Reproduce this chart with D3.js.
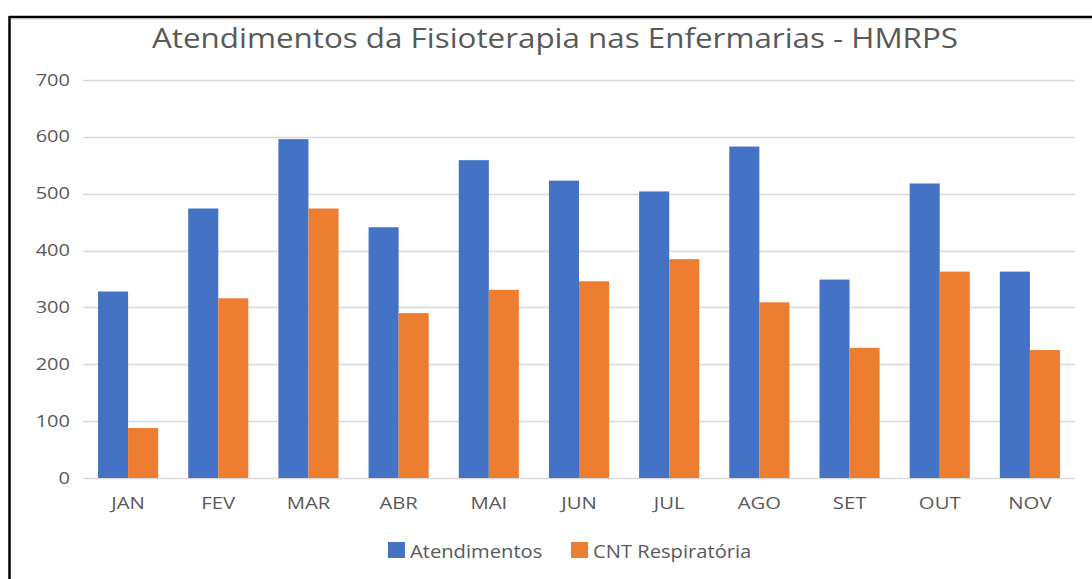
<!DOCTYPE html>
<html>
<head>
<meta charset="utf-8">
<script src="https://cdn.jsdelivr.net/npm/d3@7"></script>
<style>
  html, body { margin: 0; padding: 0; background: #fff; }
  svg { display: block; }
  text { font-family: "Open Sans", "Noto Sans", sans-serif; }
</style>
</head>
<body>
<svg id="chart" width="1092" height="579"></svg>
<script>
const categories = ["JAN", "FEV", "MAR", "ABR", "MAI", "JUN", "JUL", "AGO", "SET", "OUT", "NOV"];
const atendimentos = [328, 474, 596, 441, 559, 523, 504, 583, 349, 518, 363];
const cntRespiratoria = [88, 316, 474, 290, 331, 346, 385, 309, 229, 363, 225];
const seriesNames = ["Atendimentos", "CNT Respiratória"];
const seriesColors = ["#4472C4", "#ED7D31"];
const yTicks = [0, 100, 200, 300, 400, 500, 600, 700];
const title = "Atendimentos da Fisioterapia nas Enfermarias - HMRPS";

const svg = d3.select("#chart");
const W = 1092, H = 579;
const plot = { left: 83, right: 1075, top: 80, bottom: 478 };

svg.append("rect").attr("width", W).attr("height", H).attr("fill", "#fff");

// outer frame (black top and left edges) and faint chart border
svg.append("line").attr("x1", 9).attr("x2", W).attr("y1", 17).attr("y2", 17)
  .attr("stroke", "#000").attr("stroke-width", 2.5);
svg.append("line").attr("x1", 9.5).attr("x2", 9.5).attr("y1", 16).attr("y2", H)
  .attr("stroke", "#000").attr("stroke-width", 2.5);
svg.append("line").attr("x1", 11).attr("x2", W).attr("y1", 19.5).attr("y2", 19.5)
  .attr("stroke", "#e6e6e6").attr("stroke-width", 1);

const x0 = d3.scaleBand().domain(categories).range([plot.left, plot.right])
  .paddingInner(1/3).paddingOuter(1/6);
const x1 = d3.scaleBand().domain(seriesNames).range([0, x0.bandwidth()]).padding(0);
const y = d3.scaleLinear().domain([0, 700]).range([plot.bottom, plot.top]);

// gridlines
svg.append("g").selectAll("line").data(yTicks).join("line")
  .attr("x1", plot.left).attr("x2", plot.right)
  .attr("y1", d => Math.round(y(d)) + 0.5).attr("y2", d => Math.round(y(d)) + 0.5)
  .attr("stroke", "#d9d9d9").attr("stroke-width", 1.5);

// y axis labels
const yAxis = d3.axisLeft(y).tickValues(yTicks).tickSize(0).tickPadding(0);
const ya = svg.append("g").attr("transform", `translate(${plot.left - 13},0)`).call(yAxis);
ya.select(".domain").remove();
ya.selectAll("text").attr("fill", "#595959").attr("x", 0)
  .attr("transform", "scale(1.25,1)")
  .style("font-size", "16px")
  .style("font-family", "'Open Sans', sans-serif");

// bars
const rows = categories.map((c, i) => ({ cat: c, vals: [atendimentos[i], cntRespiratoria[i]] }));
const groups = svg.append("g").selectAll("g").data(rows).join("g")
  .attr("transform", d => `translate(${x0(d.cat)},0)`);
groups.selectAll("rect").data(d => d.vals.map((v, k) => ({ v, k }))).join("rect")
  .attr("x", d => x1(seriesNames[d.k]))
  .attr("width", x1.bandwidth())
  .attr("y", d => y(d.v))
  .attr("height", d => y(0) - y(d.v))
  .attr("fill", d => seriesColors[d.k]);

// x axis labels
const xAxis = d3.axisBottom(x0).tickSize(0).tickPadding(0);
const xa = svg.append("g").attr("transform", `translate(0,${plot.bottom + 20})`).call(xAxis);
xa.select(".domain").remove();
xa.selectAll("text").attr("fill", "#595959").attr("x", 0)
  .attr("transform", "scale(1.27,1)")
  .style("font-size", "16px")
  .style("font-family", "'Open Sans', sans-serif");

// title
svg.append("text").attr("x", 555).attr("y", 48).attr("text-anchor", "middle")
  .attr("fill", "#595959").style("font-size", "27px")
  .style("font-family", "'Open Sans', sans-serif")
  .attr("textLength", 806).attr("lengthAdjust", "spacingAndGlyphs")
  .text(title);

// legend
const legendItems = [
  { name: seriesNames[0], color: seriesColors[0], x: 388 },
  { name: seriesNames[1], color: seriesColors[1], x: 571 }
];
const lg = svg.append("g").selectAll("g").data(legendItems).join("g")
  .attr("transform", d => `translate(${d.x},0)`);
lg.append("rect").attr("x", 0).attr("y", 542).attr("width", 17).attr("height", 16)
  .attr("fill", d => d.color);
lg.append("text").attr("transform", "translate(22,558) scale(1.12,1)")
  .attr("fill", "#595959")
  .style("font-size", "18px").text(d => d.name);
</script>
</body>
</html>
